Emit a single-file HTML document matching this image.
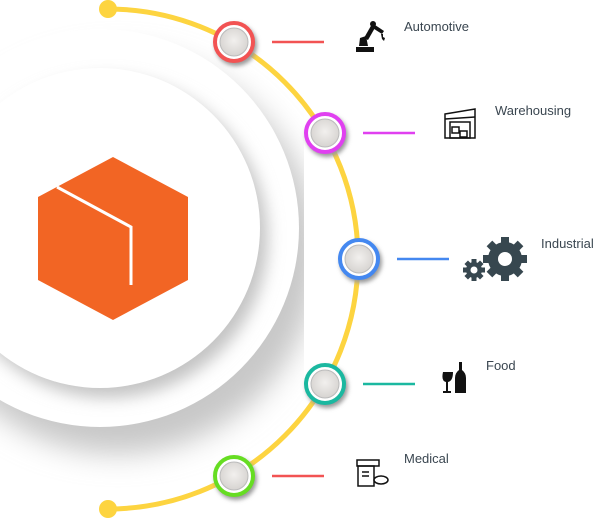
<!DOCTYPE html>
<html><head><style>
html,body{margin:0;padding:0;background:#fff;width:608px;height:521px;overflow:hidden}
svg text{font-family:"Liberation Sans",sans-serif;font-size:13px;fill:#3a4650}
</style></head><body>
<svg width="608" height="521" viewBox="0 0 608 521" xmlns="http://www.w3.org/2000/svg">
<defs>
<filter id="sh" x="-50%" y="-50%" width="200%" height="200%"><feGaussianBlur stdDeviation="14"/></filter>
<filter id="shs" x="-50%" y="-50%" width="200%" height="200%"><feGaussianBlur stdDeviation="8"/></filter>
<filter id="sh2" x="-50%" y="-50%" width="200%" height="200%"><feGaussianBlur stdDeviation="2"/></filter>
<radialGradient id="g" cx="0.5" cy="0.45" r="0.6"><stop offset="0" stop-color="#f2f0ee"/><stop offset="1" stop-color="#d4d1ce"/></radialGradient>
<clipPath id="cp"><rect x="0" y="0" width="304" height="521"/></clipPath>
</defs>
<g clip-path="url(#cp)">
<circle cx="100" cy="228" r="200" fill="#c8c8c8" filter="url(#sh)" transform="translate(18,26)"/>
<circle cx="100" cy="228" r="199" fill="#fff"/>
<circle cx="100" cy="228" r="160" fill="#c4c4c4" filter="url(#shs)" transform="translate(8,10)"/>
<circle cx="100" cy="228" r="160" fill="#fff"/>
</g>
<!-- hexagon -->
<polygon points="113,157 188,197 188,280 113,320 38,280 38,197" fill="#f26524"/>
<polyline points="57,187 131,227 131,285" fill="none" stroke="#fff" stroke-width="3"/>
<!-- arc -->
<path d="M108,9 A250,250 0 0 1 108,509" fill="none" stroke="#fdd440" stroke-width="5"/>
<circle cx="108" cy="9" r="9" fill="#fdd440"/>
<circle cx="108" cy="509" r="9" fill="#fdd440"/>
<!-- nodes -->
<g>
<circle cx="236" cy="45" r="21" fill="#999" filter="url(#sh2)"/>
<circle cx="234" cy="42" r="19" fill="#fff" stroke="#f25353" stroke-width="4"/>
<circle cx="234" cy="42" r="14" fill="url(#g)" stroke="#bbb" stroke-width="1"/>
<circle cx="327" cy="136" r="21" fill="#999" filter="url(#sh2)"/>
<circle cx="325" cy="133" r="19" fill="#fff" stroke="#e040f0" stroke-width="4"/>
<circle cx="325" cy="133" r="14" fill="url(#g)" stroke="#bbb" stroke-width="1"/>
<circle cx="361" cy="262" r="21" fill="#999" filter="url(#sh2)"/>
<circle cx="359" cy="259" r="19" fill="#fff" stroke="#4488f0" stroke-width="4"/>
<circle cx="359" cy="259" r="14" fill="url(#g)" stroke="#bbb" stroke-width="1"/>
<circle cx="327" cy="387" r="21" fill="#999" filter="url(#sh2)"/>
<circle cx="325" cy="384" r="19" fill="#fff" stroke="#1bb8a0" stroke-width="4"/>
<circle cx="325" cy="384" r="14" fill="url(#g)" stroke="#bbb" stroke-width="1"/>
<circle cx="236" cy="479" r="21" fill="#999" filter="url(#sh2)"/>
<circle cx="234" cy="476" r="19" fill="#fff" stroke="#66dd22" stroke-width="4"/>
<circle cx="234" cy="476" r="14" fill="url(#g)" stroke="#bbb" stroke-width="1"/>
</g>
<!-- connectors -->
<line x1="272" y1="42" x2="324" y2="42" stroke="#f25353" stroke-width="2.5"/>
<line x1="363" y1="133" x2="415" y2="133" stroke="#e040f0" stroke-width="2.5"/>
<line x1="397" y1="259" x2="449" y2="259" stroke="#4488f0" stroke-width="2.5"/>
<line x1="363" y1="384" x2="415" y2="384" stroke="#1bb8a0" stroke-width="2.5"/>
<line x1="272" y1="476" x2="324" y2="476" stroke="#f25353" stroke-width="2.5"/>
<!-- icons -->
<g fill="#111">
<rect x="356" y="47" width="18" height="5"/>
<path d="M359,46 L360,38 L366,36 L368,46 Z"/>
<path d="M364,38 L372,24 L376,26 L368,40 Z"/>
<path d="M372,23 L384,31 L382,34 L371,27 Z"/>
<circle cx="373" cy="24" r="3"/>
<path d="M381,34 l2,0 l0,3 l2,1 l-1,3 l-2,-2 z"/>
</g>
<g fill="none" stroke="#111" stroke-width="1.5">
<path d="M445,114 L475,109 L475,138 L445,138 Z"/>
<line x1="445" y1="119" x2="475" y2="117"/>
<rect x="450" y="122" width="20" height="16"/>
<rect x="452" y="127" width="7" height="6"/><rect x="460" y="131" width="7" height="6"/>
</g>
<g fill="#37474f">
<circle cx="505" cy="259" r="17"/>
<g transform="translate(505,259)">
<rect x="-4" y="-22" width="8" height="44"/><rect x="-22" y="-4" width="44" height="8"/>
<rect x="-4" y="-22" width="8" height="44" transform="rotate(45)"/><rect x="-4" y="-22" width="8" height="44" transform="rotate(-45)"/>
</g>
<circle cx="474" cy="270" r="8"/>
<g transform="translate(474,270)">
<rect x="-2.5" y="-11" width="5" height="22"/><rect x="-11" y="-2.5" width="22" height="5"/>
<rect x="-2.5" y="-11" width="5" height="22" transform="rotate(45)"/><rect x="-2.5" y="-11" width="5" height="22" transform="rotate(-45)"/>
</g>
</g>
<circle cx="505" cy="259" r="7" fill="#fff"/><circle cx="474" cy="270" r="3.5" fill="#fff"/>
<g fill="#111">
<path d="M443,372 h10 q0,9 -5,10 v9 h3 v2 h-8 v-2 h3 v-9 q-5,-1 -3,-10z"/>
<path d="M459,362 h3 v8 q4,3 4,8 v15 h-11 v-15 q0,-5 4,-8z"/>
</g>
<g fill="none" stroke="#111" stroke-width="1.5">
<rect x="357" y="460" width="22" height="6"/>
<rect x="358" y="466" width="16" height="20"/>
<line x1="362" y1="472" x2="369" y2="472"/><line x1="362" y1="476" x2="369" y2="476"/>
<ellipse cx="381" cy="480" rx="7" ry="4" fill="#fff"/>
</g>
<!-- labels -->
<text x="404" y="31">Automotive</text>
<text x="495" y="115">Warehousing</text>
<text x="541" y="248">Industrial</text>
<text x="486" y="370">Food</text>
<text x="404" y="463">Medical</text>
</svg>
</body></html>
